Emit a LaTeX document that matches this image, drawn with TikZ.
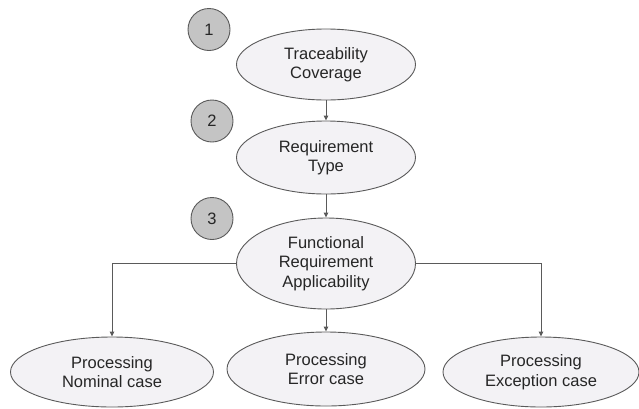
\documentclass[tikz,border=0pt]{standalone}
\usepackage{fontspec}
\setmainfont{Liberation Sans}
\usetikzlibrary{shapes.geometric,arrows.meta}
\definecolor{edgegray}{HTML}{5A5A5A}
\definecolor{ovalfill}{HTML}{F3F2F5}
\definecolor{badgefill}{HTML}{C4C4C4}
\tikzset{
  oval/.style={ellipse, draw=edgegray, line width=0.9pt, fill=ovalfill, inner sep=0pt,
    align=center, font=\fontsize{16.5}{19.5}\selectfont, text=black!85},
  badge/.style={circle, draw=edgegray, line width=0.9pt, fill=badgefill, inner sep=0pt,
    minimum size=42pt, font=\fontsize{16.5}{19.5}\selectfont, text=black!85},
  link/.style={draw=edgegray, line width=0.9pt, -{Triangle[length=5pt,width=4.5pt]}}
}
\begin{document}
\begin{tikzpicture}[x=1pt,y=-1pt]
  \useasboundingbox (0,0) rectangle (639,408);

  % numbered steps
  \node[badge] (n1) at (209,29.5) {1};
  \node[badge] (n2) at (212,121) {2};
  \node[badge] (n3) at (212,218.5) {3};

  % decision chain
  \node[oval, minimum width=179pt, minimum height=71pt] (cov) at (326,64.5) {Traceability\\Coverage};
  \node[oval, minimum width=179pt, minimum height=73pt] (typ) at (326,157.5) {Requirement\\Type};
  \node[oval, minimum width=179pt, minimum height=91pt] (app) at (326,263.5) {Functional\\Requirement\\Applicability};

  % processing cases
  \node[oval, minimum width=203pt, minimum height=70pt] (nom) at (112,372) {Processing\\Nominal case};
  \node[oval, minimum width=198pt, minimum height=74pt] (err) at (326,369) {Processing\\Error case};
  \node[oval, minimum width=196pt, minimum height=70pt] (exc) at (541,372) {Processing\\Exception case};

  % connectors
  \draw[link] (cov.south) -- (typ.north);
  \draw[link] (typ.south) -- (app.north);
  \draw[link] (app.south) -- (err.north);
  \draw[link] (app.west) -| (nom.north);
  \draw[link] (app.east) -| (exc.north);
\end{tikzpicture}
\end{document}
